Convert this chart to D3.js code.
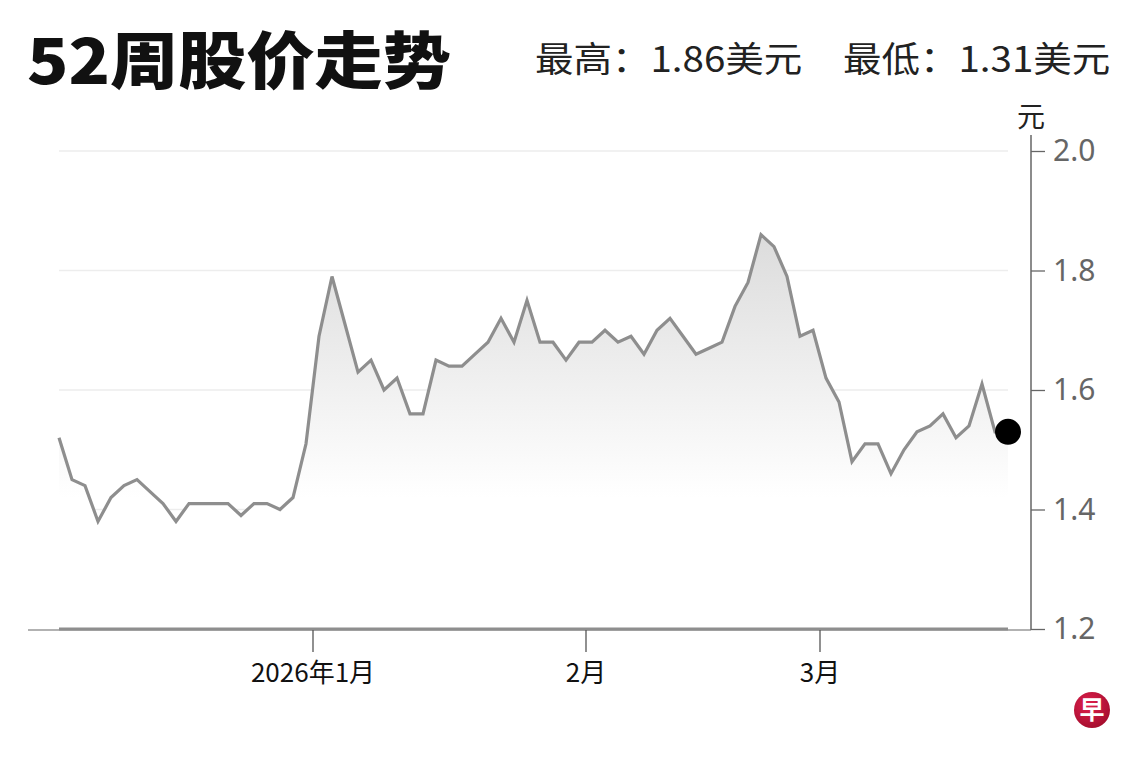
<!DOCTYPE html>
<html>
<head>
<meta charset="utf-8">
<script src="https://cdn.jsdelivr.net/npm/d3@7"></script>
<style>
  html, body { margin: 0; padding: 0; background: #fff; }
  svg { display: block; }
</style>
</head>
<body>
<div id="chart"></div>
<script>
// Trading days (SGX calendar) shown on the chart
var dates = [
    "2025-12-03","2025-12-04","2025-12-05","2025-12-08","2025-12-09","2025-12-10","2025-12-11","2025-12-12",
    "2025-12-15","2025-12-16","2025-12-17","2025-12-18","2025-12-19","2025-12-22","2025-12-23","2025-12-24",
    "2025-12-26","2025-12-29","2025-12-30","2025-12-31",
    "2026-01-02","2026-01-05","2026-01-06","2026-01-07","2026-01-08","2026-01-09","2026-01-12","2026-01-13",
    "2026-01-14","2026-01-15","2026-01-16","2026-01-19","2026-01-20","2026-01-21","2026-01-22","2026-01-23",
    "2026-01-26","2026-01-27","2026-01-28","2026-01-29","2026-01-30",
    "2026-02-02","2026-02-03","2026-02-04","2026-02-05","2026-02-06","2026-02-09","2026-02-10","2026-02-11",
    "2026-02-12","2026-02-13","2026-02-16","2026-02-19","2026-02-20","2026-02-23","2026-02-24","2026-02-25",
    "2026-02-26","2026-02-27",
    "2026-03-02","2026-03-03","2026-03-04","2026-03-05","2026-03-06","2026-03-09","2026-03-10","2026-03-11",
    "2026-03-12","2026-03-13","2026-03-16","2026-03-17","2026-03-18","2026-03-19","2026-03-20"
];

// Closing price (US$)
var prices = [
    1.52, 1.45, 1.44, 1.38, 1.42, 1.44, 1.45, 1.43, 1.41, 1.38,
    1.41, 1.41, 1.41, 1.41, 1.39, 1.41, 1.41, 1.40, 1.42, 1.51,
    1.69, 1.79, 1.71, 1.63, 1.65, 1.60, 1.62, 1.56, 1.56, 1.65,
    1.64, 1.64, 1.66, 1.68, 1.72, 1.68, 1.75, 1.68, 1.68, 1.65,
    1.68, 1.68, 1.70, 1.68, 1.69, 1.66, 1.70, 1.72, 1.69, 1.66,
    1.67, 1.68, 1.74, 1.78, 1.86, 1.84, 1.79, 1.69, 1.70, 1.62,
    1.58, 1.48, 1.51, 1.51, 1.46, 1.50, 1.53, 1.54, 1.56, 1.52,
    1.54, 1.61, 1.53, 1.53
];

var yTicks = [1.2, 1.4, 1.6, 1.8, 2.0];
var gridTicks = [1.4, 1.6, 1.8, 2.0];

// month ticks: first trading day of each month and its label
var monthFirstDays = ["2026-01-02", "2026-02-02", "2026-03-02"];
var monthLabels = ["2026年1月", "2月", "3月"];

var title = "52周股价走势";
var highText = "最高：1.86美元";
var lowText = "最低：1.31美元";
var unitText = "元";

var width = 1140, height = 760;
var cjk = "'Noto Sans CJK SC', 'Noto Sans', sans-serif";

var svg = d3.select("#chart")
    .append("svg")
        .attr("width", width)
        .attr("height", height);

// Scales
var x = d3.scaleLinear()
    .domain([0, dates.length - 1])
    .range([59, 1008]);

var y = d3.scaleLinear()
    .domain([1.2, 2.0])
    .range([629, 151]);

var axisX = 1031;

// Gradient for the area under the line
var defs = svg.append("defs");
var grad = defs.append("linearGradient")
    .attr("id", "areaGrad")
    .attr("gradientUnits", "userSpaceOnUse")
    .attr("x1", 0).attr("x2", 0)
    .attr("y1", y(d3.max(prices))).attr("y2", y(1.42));
grad.append("stop").attr("offset", "0%").attr("stop-color", "#dcdcdc");
grad.append("stop").attr("offset", "100%").attr("stop-color", "#ffffff");

// Gridlines
svg.append("g")
    .selectAll("line")
    .data(gridTicks)
    .enter()
    .append("line")
        .attr("x1", x(0))
        .attr("x2", x(dates.length - 1))
        .attr("y1", function(d) { return y(d); })
        .attr("y2", function(d) { return y(d); })
        .attr("stroke", "#ededed")
        .attr("stroke-width", 1.5);

// Area
var area = d3.area()
    .x(function(d, i) { return x(i); })
    .y0(y(1.2))
    .y1(function(d) { return y(d); });

svg.append("path")
    .datum(prices)
    .attr("d", area)
    .attr("fill", "url(#areaGrad)");

// Bottom axis line
svg.append("line")
    .attr("x1", 28).attr("x2", axisX)
    .attr("y1", 630).attr("y2", 630)
    .attr("stroke", "#666")
    .attr("stroke-width", 1.2);

// Grey baseline under the area
svg.append("line")
    .attr("x1", x(0)).attr("x2", x(dates.length - 1))
    .attr("y1", y(1.2)).attr("y2", y(1.2))
    .attr("stroke", "#8e8e8e")
    .attr("stroke-width", 3);

// Price line
var line = d3.line()
    .x(function(d, i) { return x(i); })
    .y(function(d) { return y(d); });

svg.append("path")
    .datum(prices)
    .attr("d", line)
    .attr("fill", "none")
    .attr("stroke", "#8e8e8e")
    .attr("stroke-width", 3.2)
    .attr("stroke-linejoin", "miter");

// Last price dot
var last = prices.length - 1;
svg.append("circle")
    .attr("cx", x(last))
    .attr("cy", y(prices[last]))
    .attr("r", 13)
    .attr("fill", "#000");

// Right y axis
svg.append("line")
    .attr("x1", axisX).attr("x2", axisX)
    .attr("y1", 135).attr("y2", 630)
    .attr("stroke", "#666")
    .attr("stroke-width", 1.5);

var yAxis = svg.append("g")
    .attr("transform", "translate(" + axisX + ",0)")
    .call(d3.axisRight(y)
        .tickValues(yTicks)
        .tickSize(14)
        .tickPadding(8)
        .tickFormat(d3.format(".1f")));

yAxis.select(".domain").remove();
yAxis.selectAll(".tick line").attr("stroke", "#666").attr("stroke-width", 1.3);
yAxis.selectAll(".tick text")
    .attr("fill", "#666")
    .attr("font-family", "'Noto Sans', sans-serif")
    .attr("font-size", 30);

svg.append("text")
    .attr("x", axisX)
    .attr("y", 127)
    .attr("text-anchor", "middle")
    .attr("font-family", cjk)
    .attr("font-size", 28)
    .attr("fill", "#222")
    .text(unitText);

// Bottom month ticks, placed on the month boundary
var monthPos = monthFirstDays.map(function(d) { return dates.indexOf(d) - 0.5; });

var xAxis = svg.append("g")
    .attr("transform", "translate(0,630)")
    .call(d3.axisBottom(x)
        .tickValues(monthPos)
        .tickSize(22)
        .tickPadding(12)
        .tickFormat(function(d, i) { return monthLabels[i]; }));

xAxis.select(".domain").remove();
xAxis.selectAll(".tick line").attr("stroke", "#555").attr("stroke-width", 1.3);
xAxis.selectAll(".tick text")
    .attr("fill", "#111")
    .attr("font-family", cjk)
    .attr("font-size", 26);

// Title and high / low (the original art is a little wide, hence the x stretch)
svg.append("text")
    .attr("transform", "translate(27,84) scale(1.1,1)")
    .attr("font-family", cjk)
    .attr("font-weight", 900)
    .attr("font-size", 62)
    .attr("fill", "#111")
    .text(title);

svg.append("text")
    .attr("transform", "translate(535,72) scale(1.1,1)")
    .attr("font-family", cjk)
    .attr("font-size", 35)
    .attr("fill", "#222")
    .text(highText);

svg.append("text")
    .attr("transform", "translate(843,72) scale(1.1,1)")
    .attr("font-family", cjk)
    .attr("font-size", 35)
    .attr("fill", "#222")
    .text(lowText);

// Logo
var logoGrad = defs.append("radialGradient")
    .attr("id", "logoGrad")
    .attr("cx", "40%").attr("cy", "35%").attr("r", "70%");
logoGrad.append("stop").attr("offset", "0%").attr("stop-color", "#e0204f");
logoGrad.append("stop").attr("offset", "100%").attr("stop-color", "#a30d2c");

svg.append("circle")
    .attr("cx", 1092).attr("cy", 710).attr("r", 18)
    .attr("fill", "url(#logoGrad)");

svg.append("text")
    .attr("x", 1092).attr("y", 719)
    .attr("text-anchor", "middle")
    .attr("font-family", cjk)
    .attr("font-weight", 700)
    .attr("font-size", 25)
    .attr("fill", "#fff")
    .text("早");
</script>
</body>
</html>
